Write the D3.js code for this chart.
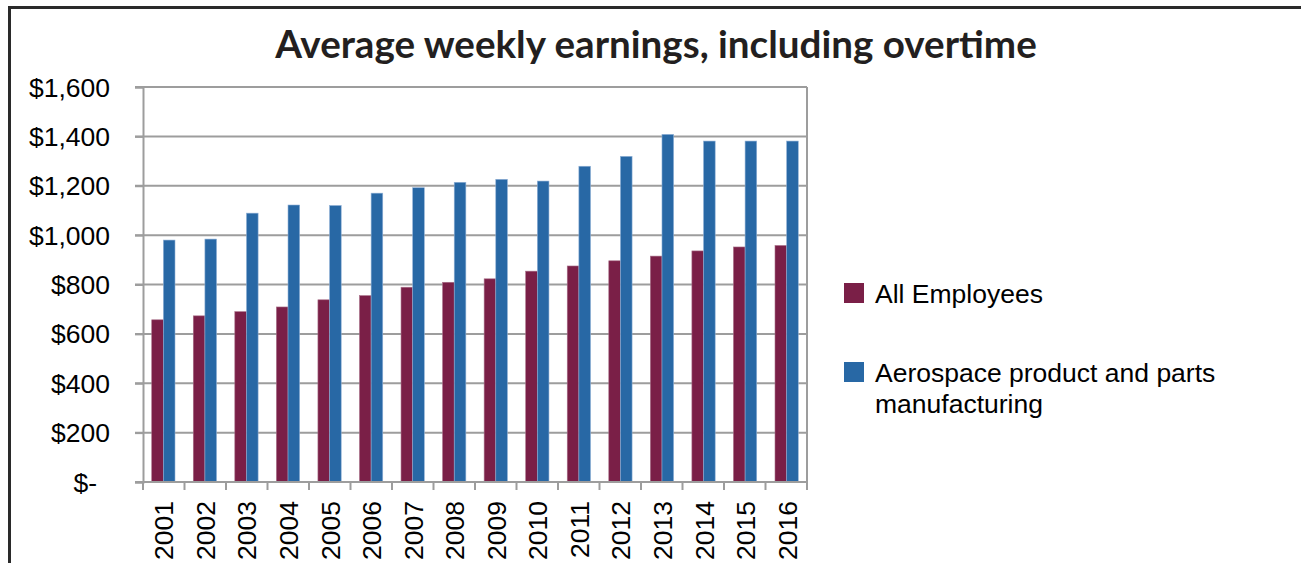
<!DOCTYPE html>
<html>
<head>
<meta charset="utf-8">
<script src="https://cdn.jsdelivr.net/npm/d3@7"></script>
<style>
  body { margin: 0; background: #fff; }
  svg { display: block; }
</style>
</head>
<body>
<div id="chart"></div>
<script>
// values
const years = ["2001", "2002", "2003", "2004", "2005", "2006", "2007", "2008",
  "2009", "2010", "2011", "2012", "2013", "2014", "2015", "2016"];
const allEmployees = [657, 673, 690, 709, 738, 755, 789, 809, 823, 854, 875, 896, 915, 936, 952, 958];
const aerospace = [980, 984, 1089, 1122, 1120, 1170, 1192, 1214, 1226, 1219, 1279, 1319, 1408, 1381, 1381, 1381];
const seriesNames = ["All Employees", "Aerospace product and parts manufacturing"];
const seriesColors = ["#7a1f47", "#2868a5"];
const yTicks = [0, 200, 400, 600, 800, 1000, 1200, 1400, 1600];

const width = 1301;
const height = 563;
const margin = { left: 143, right: 494, top: 87, bottom: 81 };
const plotW = width - margin.left - margin.right;
const plotH = height - margin.top - margin.bottom;
const labelFont = "'Liberation Sans', Arial, sans-serif";

const svg = d3.select("#chart")
  .append("svg")
  .attr("width", width)
  .attr("height", height);

// outer frame (only top and left visible)
svg.append("line")
  .attr("x1", 8).attr("x2", width).attr("y1", 7.5).attr("y2", 7.5)
  .attr("stroke", "#2a2a2a").attr("stroke-width", 3);
svg.append("line")
  .attr("x1", 9.5).attr("x2", 9.5).attr("y1", 6).attr("y2", height)
  .attr("stroke", "#2a2a2a").attr("stroke-width", 3);

const title = svg.append("text")
  .attr("x", 656)
  .attr("y", 57.5)
  .attr("text-anchor", "middle")
  .style("font-family", "Lato, 'Open Sans', sans-serif")
  .style("font-weight", "bold")
  .style("font-size", "35px")
  .style("fill", "#231f20")
  .text("Average weekly earnings, including overtime");
// fit title to the width seen in the reference
const tw = title.node().getComputedTextLength();
title.style("font-size", (35 * 762 / tw) + "px");

const g = svg.append("g")
  .attr("transform", `translate(${margin.left}, ${margin.top})`);

const x = d3.scaleBand()
  .domain(years)
  .range([0, plotW])
  .paddingInner(0.44)
  .paddingOuter(0.21);
const x1 = d3.scaleBand()
  .domain([0, 1])
  .range([0, x.bandwidth()]);
const y = d3.scaleLinear()
  .domain([0, 1600])
  .range([plotH, 0]);

// gridlines
g.append("g")
  .selectAll("line")
  .data(yTicks.filter((d) => d > 0))
  .enter()
  .append("line")
  .attr("x1", -8)
  .attr("x2", plotW)
  .attr("y1", (d) => y(d))
  .attr("y2", (d) => y(d))
  .attr("stroke", "#9d9d9d")
  .attr("stroke-width", 2);

// right border of plot
g.append("line")
  .attr("x1", plotW).attr("x2", plotW)
  .attr("y1", 0).attr("y2", plotH)
  .attr("stroke", "#9d9d9d").attr("stroke-width", 2);

// bars
const groups = g.selectAll(".year")
  .data(years)
  .enter()
  .append("g")
  .attr("transform", (d) => `translate(${x(d)}, 0)`);

[allEmployees, aerospace].forEach((vals, si) => {
  groups.append("rect")
    .attr("x", x1(si))
    .attr("y", (d, i) => y(vals[i]))
    .attr("width", x1.bandwidth())
    .attr("height", (d, i) => plotH - y(vals[i]))
    .attr("fill", seriesColors[si])
    .attr("stroke", si === 0 ? "#a86f88" : "#8fb0d6")
    .attr("stroke-width", 0.6);
});

// y axis
const yAxis = g.append("g")
  .call(d3.axisLeft(y).tickValues(yTicks).tickSize(8).tickPadding(25)
    .tickFormat((d) => d === 0 ? "$-" : d3.format("$,")(d)));
yAxis.select(".domain").attr("stroke", "#9d9d9d").attr("stroke-width", 2);
yAxis.selectAll(".tick line").attr("stroke", "#9d9d9d").attr("stroke-width", 2);
yAxis.selectAll("text")
  .style("font-family", labelFont)
  .style("font-size", "26.5px")
  .style("fill", "#000")
  .attr("dy", "0.34em");
yAxis.selectAll(".tick")
  .filter((d) => d === 0)
  .select("text")
  .attr("dx", -13);

// x axis with tick marks at category boundaries
const xAxis = g.append("g")
  .attr("transform", `translate(0, ${plotH})`);
xAxis.append("line")
  .attr("x1", -8).attr("x2", plotW)
  .attr("stroke", "#9d9d9d").attr("stroke-width", 2);
xAxis.selectAll(".bound")
  .data(d3.range(years.length + 1))
  .enter()
  .append("line")
  .attr("x1", (d) => d * plotW / years.length)
  .attr("x2", (d) => d * plotW / years.length)
  .attr("y1", 0).attr("y2", 8)
  .attr("stroke", "#9d9d9d").attr("stroke-width", 2);
xAxis.selectAll(".lab")
  .data(years)
  .enter()
  .append("text")
  .attr("transform", (d) => `translate(${x(d) + x.bandwidth() / 2 + 10}, 19) rotate(-90)`)
  .attr("text-anchor", "end")
  .style("font-family", labelFont)
  .style("font-size", "26.5px")
  .style("fill", "#000")
  .text((d) => d);

// legend
const legend = svg.append("g").attr("transform", "translate(844, 283)");
const legendRows = [
  { name: ["All Employees"], color: seriesColors[0], y: 0 },
  { name: ["Aerospace product and parts", "manufacturing"], color: seriesColors[1], y: 79 },
];
legendRows.forEach((r) => {
  legend.append("rect")
    .attr("x", 0).attr("y", r.y)
    .attr("width", 20).attr("height", 20)
    .attr("fill", r.color);
  const t = legend.append("text")
    .attr("x", 31).attr("y", r.y + 19.5)
    .style("font-family", labelFont)
    .style("font-size", "26.5px")
    .style("fill", "#000");
  r.name.forEach((line, i) => {
    t.append("tspan").attr("x", 31).attr("dy", i === 0 ? 0 : 31.6).text(line);
  });
});
</script>
</body>
</html>
